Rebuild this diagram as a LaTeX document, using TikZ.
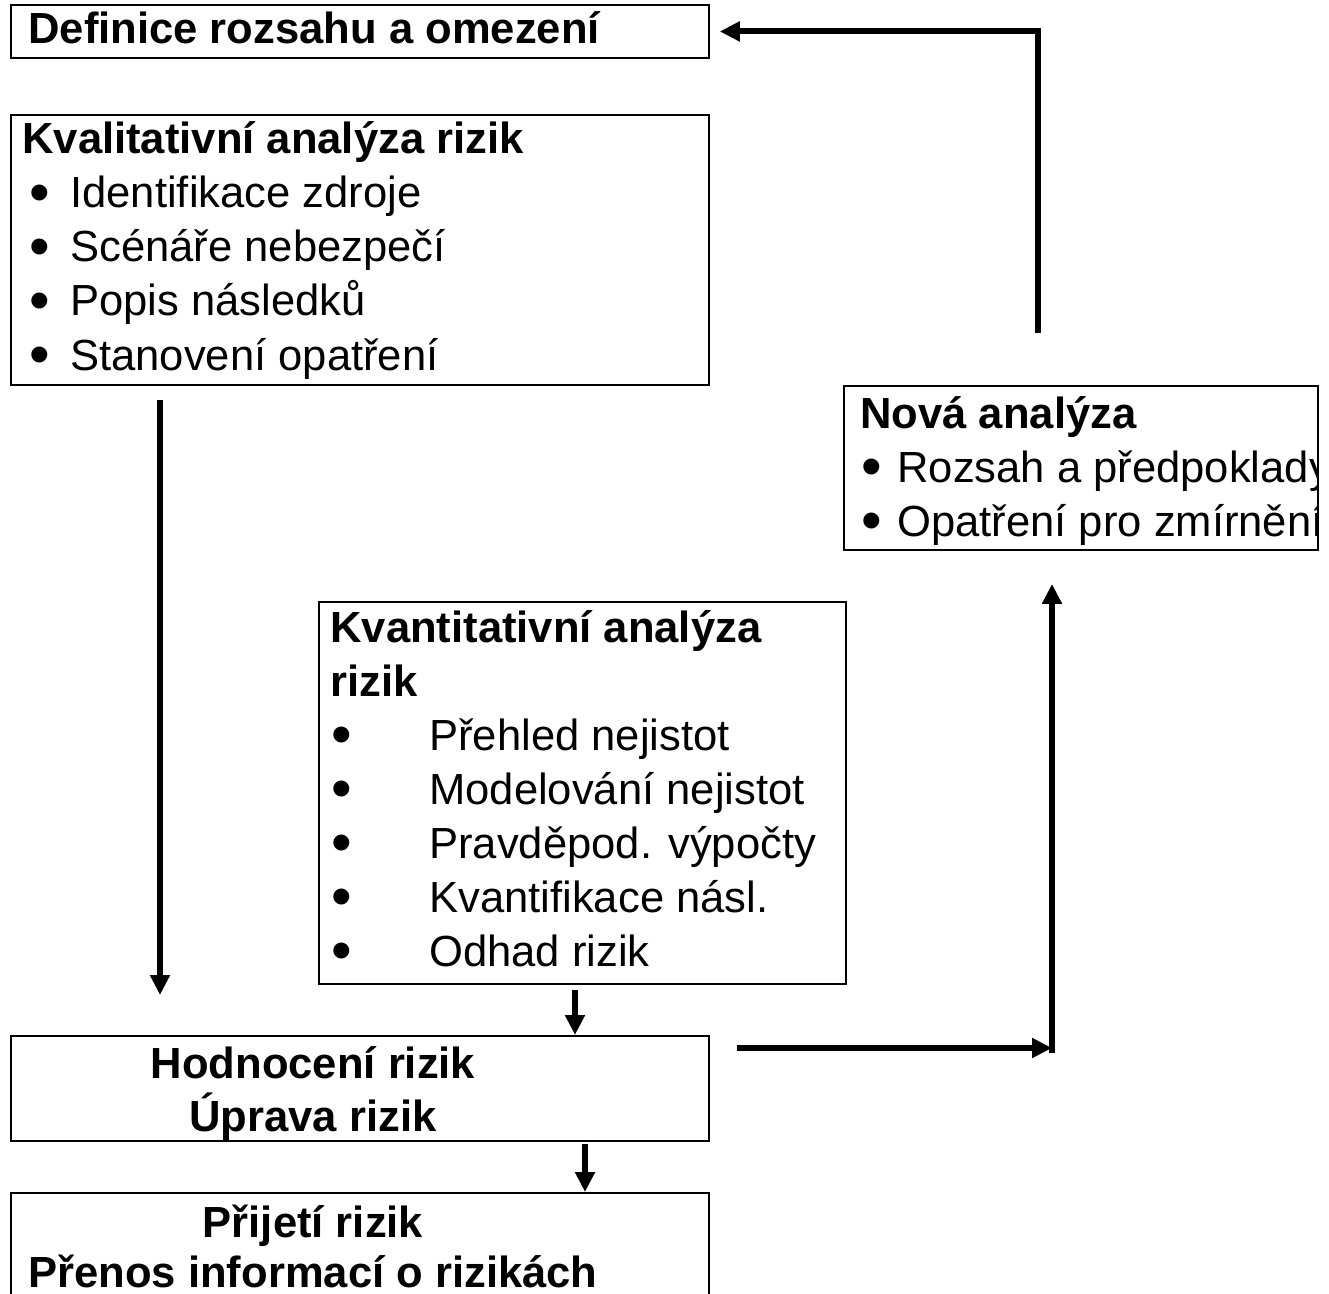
\documentclass[tikz,border=0pt]{standalone}
\usepackage{fontspec}
\setmainfont{Liberation Sans}
\usepackage{tikz}
\usetikzlibrary{arrows.meta,positioning,calc}

\tikzset{
  box/.style={draw,line width=1.1pt,inner sep=0pt,anchor=north west},
  txt/.style={inner sep=0pt,anchor=base west,font=\fontsize{24.8pt}{30pt}\selectfont},
  head/.style={txt,font=\fontsize{24.8pt}{30pt}\selectfont\bfseries},
  flow/.style={line width=3.4pt,-{Triangle[length=0.40cm,width=0.38cm]}},
}
\newcommand{\blt}[2]{\makebox[#1][l]{\raisebox{-0.11em}{\scalebox{1.35}{\textbullet}}}#2}

\begin{document}
\begin{tikzpicture}[x=0.02cm,y=-0.02cm,>=Stealth]
    \useasboundingbox (0,0) rectangle (1329,1294);

    % Boxes
    \node[box,minimum width=13.96cm,minimum height=1.06cm] (def) at (10,4) {};
    \node[box,minimum width=13.96cm,minimum height=5.40cm] (kval) at (10,114) {};
    \node[box,minimum width=9.48cm,minimum height=3.28cm] (nova) at (843,385) {};
    \node[box,minimum width=10.54cm,minimum height=7.64cm] (kvant) at (318,601) {};
    \node[box,minimum width=13.96cm,minimum height=2.10cm] (hodn) at (10,1035) {};
    \node[box,minimum width=13.96cm,minimum height=2.96cm] (prij) at (10,1192) {};

    % Definition of scope
    \node[head] (defT) at (28,44) {Definice rozsahu a omezení};

    % Qualitative analysis
    \node[head] (kvalT) at (22,154) {Kvalitativní analýza rizik};
    \node[txt] (kval1) at (29,208) {\blt{0.82cm}{Identifikace zdroje}};
    \node[txt] (kval2) at (29,262) {\blt{0.82cm}{Scénáře nebezpečí}};
    \node[txt] (kval3) at (29,316) {\blt{0.82cm}{Popis následků}};
    \node[txt] (kval4) at (29,370) {\blt{0.82cm}{Stanovení opatření}};

    % New analysis (text cut by the frame)
    \begin{scope}
        \clip (843,385) rectangle (1316,549);
        \node[head] (novaT) at (860,428) {Nová analýza};
        \node[txt] (nova1) at (861,482) {\blt{0.72cm}{Rozsah a předpoklady}};
        \node[txt] (nova2) at (861,536) {\blt{0.72cm}{Opatření pro zmírnění}};
    \end{scope}

    % Quantitative analysis
    \node[head] (kvantT) at (330,642) {Kvantitativní analýza};
    \node[head] (kvantU) at (330,696) {rizik};
    \node[txt] (kvant1) at (331,750) {\blt{1.96cm}{Přehled nejistot}};
    \node[txt] (kvant2) at (331,804) {\blt{1.96cm}{Modelování nejistot}};
    \node[txt] (kvant3) at (331,858) {\blt{1.96cm}{Pravděpod. výpočty}};
    \node[txt] (kvant4) at (331,912) {\blt{1.96cm}{Kvantifikace násl.}};
    \node[txt] (kvant5) at (331,966) {\blt{1.96cm}{Odhad rizik}};

    % Evaluation and acceptance
    \node[head,anchor=base] (hodnT) at (313,1078) {Hodnocení rizik};
    \node[head,anchor=base] (hodnU) at (313,1131) {Úprava rizik};
    \node[head,anchor=base] (prijT) at (313,1237) {Přijetí rizik};
    \node[head,anchor=base] (prijU) at (313,1287) {Přenos informací o rizikách};

    % Arrow ends
    \coordinate (loopA) at ($(nova.north west)+(195,-52)$);
    \coordinate (loopB) at ($(def.east)+(10,0)$);
    \coordinate (downA) at ($(kval.south west)+(150,14)$);
    \coordinate (downB) at ($(hodn.north west)+(150,-40)$);
    \coordinate (qA) at ($(kvant.south west)+(257,5)$);
    \coordinate (qB) at ($(hodn.north west)+(565,0)$);
    \coordinate (hA) at ($(hodn.south west)+(575,2)$);
    \coordinate (hB) at ($(prij.north west)+(575,0)$);
    \coordinate (rA) at ($(hodn.north east)+(27,13)$);
    \coordinate (corner) at (1052,1048);
    \coordinate (upA) at ($(corner)+(0,5)$);
    \coordinate (upB) at ($(nova.south west)+(209,33)$);

    % Connectors
    \draw[flow] (loopA) |- (loopB);
    \draw[flow] (downA) -- (downB);
    \draw[flow] (qA) -- (qB);
    \draw[flow] (hA) -- (hB);
    \draw[flow] (rA) -- (corner);
    \draw[flow] (upA) -- (upB);

\end{tikzpicture}
\end{document}
